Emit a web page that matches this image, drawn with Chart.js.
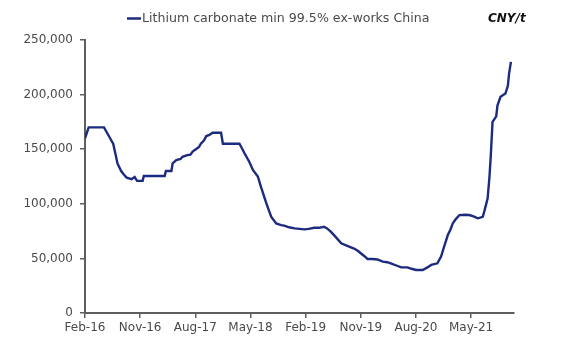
<!DOCTYPE html>
<html>
<head>
<meta charset="utf-8">
<script src="https://cdn.jsdelivr.net/npm/chart.js@4/dist/chart.umd.min.js"></script>
<style>
  html, body { margin: 0; padding: 0; background: #fff; }
  #wrap { width: 586px; height: 355px; position: relative; }
</style>
</head>
<body>
<div id="wrap"><canvas id="c" width="586" height="355"></canvas></div>
<script>
// Months elapsed since Feb-2016 (decimal), and price in CNY/t
const months = [
  0, 0.6, 3.1, 3.5, 3.8, 4.3, 4.6, 5.0, 5.3, 5.9, 6.3, 6.8, 7.6, 8.1, 8.5, 9.4, 9.6, 13.0, 13.2, 14.1,
  14.3, 14.9, 15.6, 15.9, 16.8, 17.2, 17.6, 18.1, 18.6, 18.9, 19.4, 19.8, 20.3, 20.8, 22.2, 22.5, 25.2, 25.5, 26.0, 26.8,
  27.4, 28.2, 28.7, 29.5, 30.0, 30.4, 31.2, 32.0, 32.5, 33.3, 34.2, 35.0, 35.8, 36.5, 37.4, 38.2, 39.0, 39.5, 40.1, 41.0,
  41.8, 42.9, 43.9, 44.5, 45.0, 45.6, 46.1, 46.9, 47.7, 48.6, 49.3, 49.9, 50.8, 51.6, 52.6, 53.3, 54.0, 55.1, 55.8, 56.5,
  57.5, 58.1, 58.6, 59.2, 59.6, 60.0, 60.5, 61.1, 62.0, 62.7, 63.4, 64.1, 64.9, 65.2, 65.7, 66.0, 66.2, 66.5, 67.1, 67.3,
  67.8, 68.6, 69.0, 69.2, 69.5
];
const prices = [
  160000, 170000, 170000, 166000, 163000, 158000, 155000, 145000, 137000, 130000, 127000, 124000, 122500, 124500, 121000, 121000, 125500, 125500, 130000, 130000,
  137000, 140000, 141000, 143000, 144700, 145000, 148000, 150000, 152000, 155000, 158000, 162000, 163000, 165000, 165000, 155000, 155000, 152000, 146500, 138500,
  131000, 125000, 115700, 102000, 94000, 88000, 82000, 80500, 80000, 78500, 77500, 77000, 76600, 77000, 78000, 78000, 79000, 77500, 74500, 69000,
  63800, 61300, 59000, 57000, 54700, 52000, 49500, 49500, 49000, 47000, 46500, 45500, 43500, 41800, 41800, 40500, 39400, 39400, 41500, 44000,
  45500, 51600, 60700, 71400, 76000, 82000, 86000, 89700, 90000, 89700, 88500, 86700, 88000, 94000, 105000, 125000, 143000, 175000, 180000, 190000,
  198000, 201000, 208000, 219500, 230000
];
const xTickLabels = ['Feb-16', 'Nov-16', 'Aug-17', 'May-18', 'Feb-19', 'Nov-19', 'Aug-20', 'May-21'];
const xTickStep = 9; // months between labelled ticks
const yTicks = [0, 50000, 100000, 150000, 200000, 250000];
const seriesLabel = 'Lithium carbonate min 99.5% ex-works China';
const unitLabel = 'CNY/t';

const LINE = '#1c2b7f';
const AXIS = '#5e5e5e';
const TXT = '#4a4a4a';
const FONT = 'DejaVu Sans';

const points = months.map((m, i) => ({ x: m, y: prices[i] }));

const headerPlugin = {
  id: 'header',
  afterDraw(chart) {
    const ctx = chart.ctx;
    ctx.save();
    ctx.strokeStyle = LINE;
    ctx.lineWidth = 2.5;
    ctx.beginPath();
    ctx.moveTo(127, 18.5);
    ctx.lineTo(141, 18.5);
    ctx.stroke();
    ctx.fillStyle = TXT;
    ctx.font = '12.6px "' + FONT + '"';
    ctx.textBaseline = 'middle';
    ctx.textAlign = 'left';
    ctx.fillText(chart.data.datasets[0].label, 142, 18.5);
    ctx.fillStyle = '#111';
    ctx.font = 'italic bold 12px "' + FONT + '"';
    ctx.fillText(unitLabel, 488, 18.5);
    ctx.restore();
  }
};

new Chart(document.getElementById('c'), {
  type: 'line',
  data: {
    datasets: [{
      label: seriesLabel,
      data: points,
      borderColor: LINE,
      backgroundColor: LINE,
      borderWidth: 2.4,
      pointRadius: 0,
      tension: 0,
      fill: false
    }]
  },
  options: {
    responsive: false,
    animation: false,
    devicePixelRatio: 1,
    layout: { padding: { left: 0, right: 72, top: 40, bottom: 0 } },
    plugins: { legend: { display: false }, tooltip: { enabled: false } },
    scales: {
      x: {
        type: 'linear',
        min: 0,
        max: 70,
        afterBuildTicks(scale) {
          scale.ticks = xTickLabels.map((l, i) => ({ value: i * xTickStep }));
        },
        afterFit(scale) { scale.height = 42; },
        ticks: {
          autoSkip: false,
          maxRotation: 0,
          padding: 3,
          color: TXT,
          font: { family: FONT, size: 12 },
          callback: (v) => xTickLabels[Math.round(v / xTickStep)]
        },
        grid: { display: true, drawOnChartArea: false, drawTicks: true, tickLength: 5, color: AXIS, lineWidth: 1.5 },
        border: { display: true, color: AXIS, width: 2 }
      },
      y: {
        min: 0,
        max: 250000,
        afterBuildTicks(scale) {
          scale.ticks = yTicks.map(v => ({ value: v }));
        },
        afterFit(scale) { scale.width = 85; },
        ticks: {
          padding: 7,
          color: TXT,
          font: { family: FONT, size: 12 },
          callback: (v) => v.toLocaleString('en-US')
        },
        grid: { display: true, drawOnChartArea: false, drawTicks: true, tickLength: 5, color: AXIS, lineWidth: 1.5 },
        border: { display: true, color: AXIS, width: 2 }
      }
    }
  },
  plugins: [headerPlugin]
});
</script>
</body>
</html>
